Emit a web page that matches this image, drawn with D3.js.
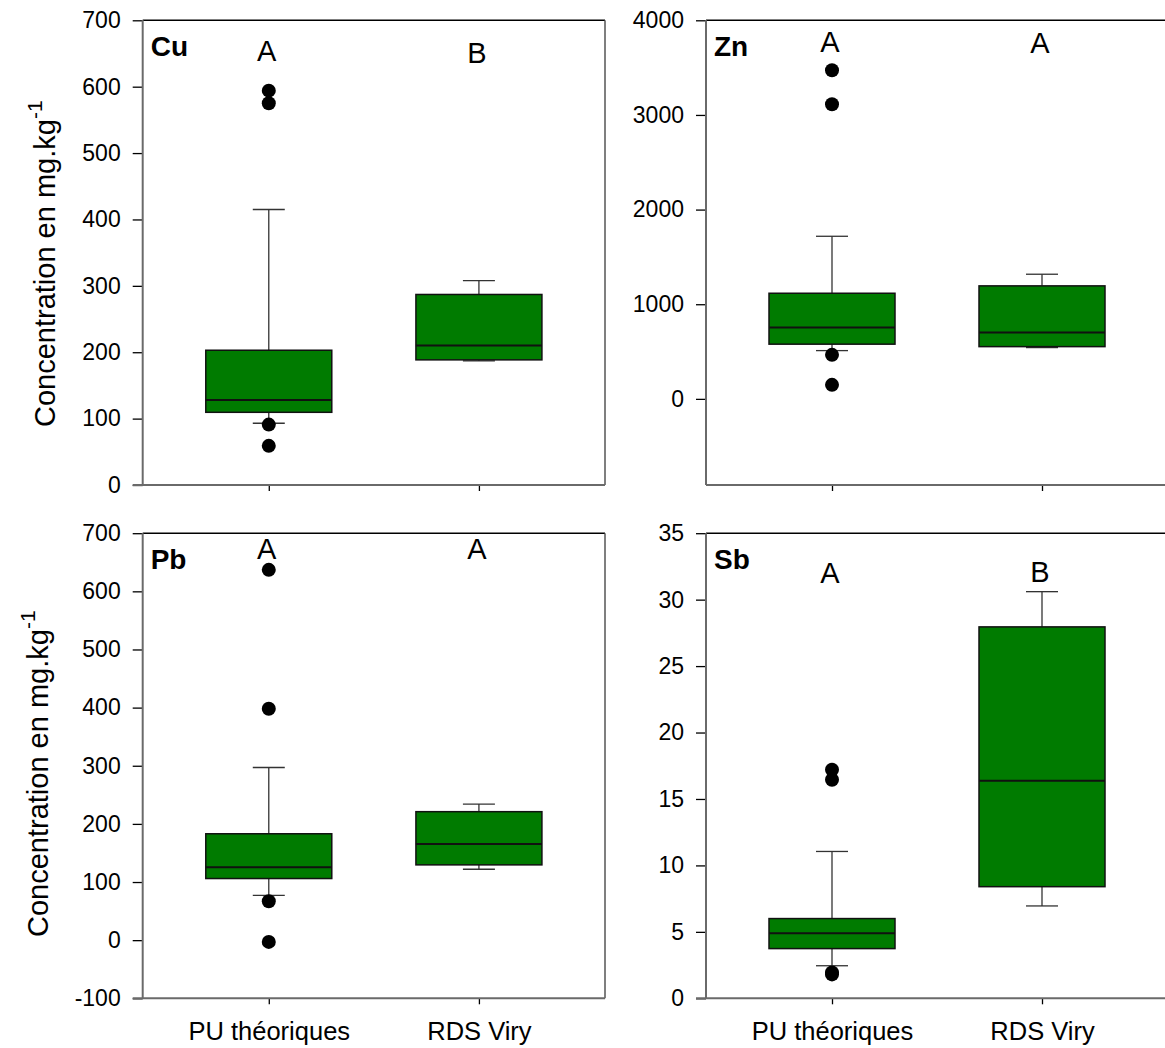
<!DOCTYPE html>
<html>
<head>
<meta charset="utf-8">
<script src="https://cdn.jsdelivr.net/npm/d3@7"></script>
<style>
  html, body { margin: 0; padding: 0; background: #ffffff; }
  svg { display: block; }
  text { font-family: "Liberation Sans", Arial, sans-serif; fill: #000; }
</style>
</head>
<body>
<svg id="chart" width="1165" height="1048"></svg>
<script>
// ---------- data ----------
const groups = ["PU théoriques", "RDS Viry"];

// each box: [lower whisker, Q1, median, Q3, upper whisker]
const cuBoxes = [[93, 109.5, 128, 203, 415], [187, 188.5, 210, 287, 308]];
const cuOutliers = [[594, 575, 91, 59], []];
const cuLetters = ["A", "B"];
const cuLetterY = [638, 636];
const cuDomain = [0, 700];
const cuTicks = [0, 100, 200, 300, 400, 500, 600, 700];

const znBoxes = [[510, 578, 753, 1116, 1718], [542, 552, 700, 1194, 1317]];
const znOutliers = [[3472, 3113, 465, 148], []];
const znLetters = ["A", "A"];
const znLetterY = [3660, 3650];
const znDomain = [-910, 4000];
const znTicks = [0, 1000, 2000, 3000, 4000];

const pbBoxes = [[77, 106, 125.5, 183, 297], [122, 129.5, 165.5, 221, 234]];
const pbOutliers = [[637, 398, 67, -3], []];
const pbLetters = ["A", "A"];
const pbLetterY = [655, 655];
const pbDomain = [-100, 700];
const pbTicks = [-100, 0, 100, 200, 300, 400, 500, 600, 700];

const sbBoxes = [[2.45, 3.74, 4.9, 6.0, 11.05], [6.95, 8.4, 16.37, 27.95, 30.6]];
const sbOutliers = [[17.2, 16.45, 1.95, 1.8], []];
const sbLetters = ["A", "B"];
const sbLetterY = [31.25, 31.3];
const sbDomain = [0, 35];
const sbTicks = [0, 5, 10, 15, 20, 25, 30, 35];

const panelNames = ["Cu", "Zn", "Pb", "Sb"];
const yTitle = "Concentration en mg.kg";
const yTitleSup = "-1";

// ---------- layout ----------
const svg = d3.select("#chart");
const boxW = 126, capW = 32, dotR = 7;
const green = "#007b00";

const panels = [
  {name: panelNames[0], left: 142.7, right: 605, top: 20.3, bottom: 485, domain: cuDomain, ticks: cuTicks,
   boxes: cuBoxes, outliers: cuOutliers, letters: cuLetters, letterY: cuLetterY, xLabels: false, title: {x: 55, y: 427}},
  {name: panelNames[1], left: 706, right: 1168, top: 20.3, bottom: 485, domain: znDomain, ticks: znTicks,
   boxes: znBoxes, outliers: znOutliers, letters: znLetters, letterY: znLetterY, xLabels: false, title: null},
  {name: panelNames[2], left: 142.7, right: 605, top: 533.2, bottom: 998.3, domain: pbDomain, ticks: pbTicks,
   boxes: pbBoxes, outliers: pbOutliers, letters: pbLetters, letterY: pbLetterY, xLabels: true, title: {x: 48, y: 937}},
  {name: panelNames[3], left: 706, right: 1168, top: 533.2, bottom: 998.3, domain: sbDomain, ticks: sbTicks,
   boxes: sbBoxes, outliers: sbOutliers, letters: sbLetters, letterY: sbLetterY, xLabels: true, title: null}
];

panels.forEach(p => {
  const y = d3.scaleLinear().domain(p.domain).range([p.bottom, p.top]);
  const x = d3.scalePoint().domain(groups).range([p.left, p.right]).padding(0.6);
  const g = svg.append("g");

  // frame: top and right
  g.append("line").attr("x1", p.left).attr("x2", p.right).attr("y1", p.top).attr("y2", p.top)
    .attr("stroke", "#000").attr("stroke-width", 1.5);
  g.append("line").attr("x1", p.right).attr("x2", p.right).attr("y1", p.top).attr("y2", p.bottom)
    .attr("stroke", "#555").attr("stroke-width", 1.5);

  // left axis
  const ya = g.append("g").attr("transform", `translate(${p.left},0)`)
    .call(d3.axisLeft(y).tickValues(p.ticks).tickSize(10).tickSizeOuter(0).tickPadding(12).tickFormat(d => String(d)));
  ya.select(".domain").remove();
  ya.selectAll(".tick line").attr("stroke", "#000").attr("stroke-width", 1.3);
  ya.selectAll(".tick text").attr("font-size", 23).attr("font-family", "Liberation Sans, Arial, sans-serif").attr("fill", "#000");
  g.append("line").attr("x1", p.left).attr("x2", p.left).attr("y1", p.top).attr("y2", p.bottom)
    .attr("stroke", "#6a6a6a").attr("stroke-width", 2);

  // bottom axis
  const xa = g.append("g").attr("transform", `translate(0,${p.bottom})`)
    .call(d3.axisBottom(x).tickSize(6).tickSizeOuter(0).tickPadding(18));
  xa.select(".domain").remove();
  xa.selectAll(".tick line").attr("stroke", "#000").attr("stroke-width", 1.3);
  if (p.xLabels) {
    xa.selectAll(".tick text").attr("font-size", 25.5).attr("font-family", "Liberation Sans, Arial, sans-serif")
      .attr("fill", "#000").attr("dy", null).attr("y", 42);
  } else {
    xa.selectAll(".tick text").remove();
  }
  const bx0 = p.ticks.includes(p.domain[0]) ? p.left - 10 : p.left;
  g.append("line").attr("x1", bx0).attr("x2", p.right).attr("y1", p.bottom).attr("y2", p.bottom)
    .attr("stroke", "#6a6a6a").attr("stroke-width", 2);

  // boxes
  const bg = g.selectAll("g.box").data(p.boxes.map((b, i) => ({b, cat: groups[i], out: p.outliers[i]})))
    .enter().append("g").attr("class", "box");
  bg.append("line").attr("x1", d => x(d.cat)).attr("x2", d => x(d.cat))
    .attr("y1", d => y(d.b[4])).attr("y2", d => y(d.b[3])).attr("stroke", "#333").attr("stroke-width", 1.3);
  bg.append("line").attr("x1", d => x(d.cat)).attr("x2", d => x(d.cat))
    .attr("y1", d => y(d.b[1])).attr("y2", d => y(d.b[0])).attr("stroke", "#333").attr("stroke-width", 1.3);
  bg.append("line").attr("x1", d => x(d.cat) - capW / 2).attr("x2", d => x(d.cat) + capW / 2)
    .attr("y1", d => y(d.b[4])).attr("y2", d => y(d.b[4])).attr("stroke", "#333").attr("stroke-width", 1.3);
  bg.append("line").attr("x1", d => x(d.cat) - capW / 2).attr("x2", d => x(d.cat) + capW / 2)
    .attr("y1", d => y(d.b[0])).attr("y2", d => y(d.b[0])).attr("stroke", "#333").attr("stroke-width", 1.3);
  bg.append("rect").attr("x", d => x(d.cat) - boxW / 2).attr("width", boxW)
    .attr("y", d => y(d.b[3])).attr("height", d => y(d.b[1]) - y(d.b[3]))
    .attr("fill", green).attr("stroke", "#111").attr("stroke-width", 1.5);
  bg.append("line").attr("x1", d => x(d.cat) - boxW / 2).attr("x2", d => x(d.cat) + boxW / 2)
    .attr("y1", d => y(d.b[2])).attr("y2", d => y(d.b[2])).attr("stroke", "#111").attr("stroke-width", 2);
  bg.each(function(d) {
    d3.select(this).selectAll("circle").data(d.out).enter().append("circle")
      .attr("cx", x(d.cat)).attr("cy", v => y(v)).attr("r", dotR).attr("fill", "#000");
  });

  // significance letters
  g.selectAll("text.letter").data(p.letters.map((l, i) => ({l, cat: groups[i], v: p.letterY[i]})))
    .enter().append("text").attr("class", "letter")
    .attr("x", d => x(d.cat) - 2).attr("y", d => y(d.v))
    .attr("text-anchor", "middle").attr("font-size", 29).text(d => d.l);

  // panel name
  g.append("text").attr("x", p.left + 8).attr("y", p.top + 35.5)
    .attr("font-size", 28).attr("font-weight", "bold").text(p.name);

  // y title
  if (p.title) {
    const t = g.append("text").attr("transform", `translate(${p.title.x},${p.title.y}) rotate(-90)`)
      .attr("font-size", 29);
    t.append("tspan").text(yTitle);
    t.append("tspan").attr("font-size", 21).attr("dy", -13).text(yTitleSup);
  }
});
</script>
</body>
</html>
